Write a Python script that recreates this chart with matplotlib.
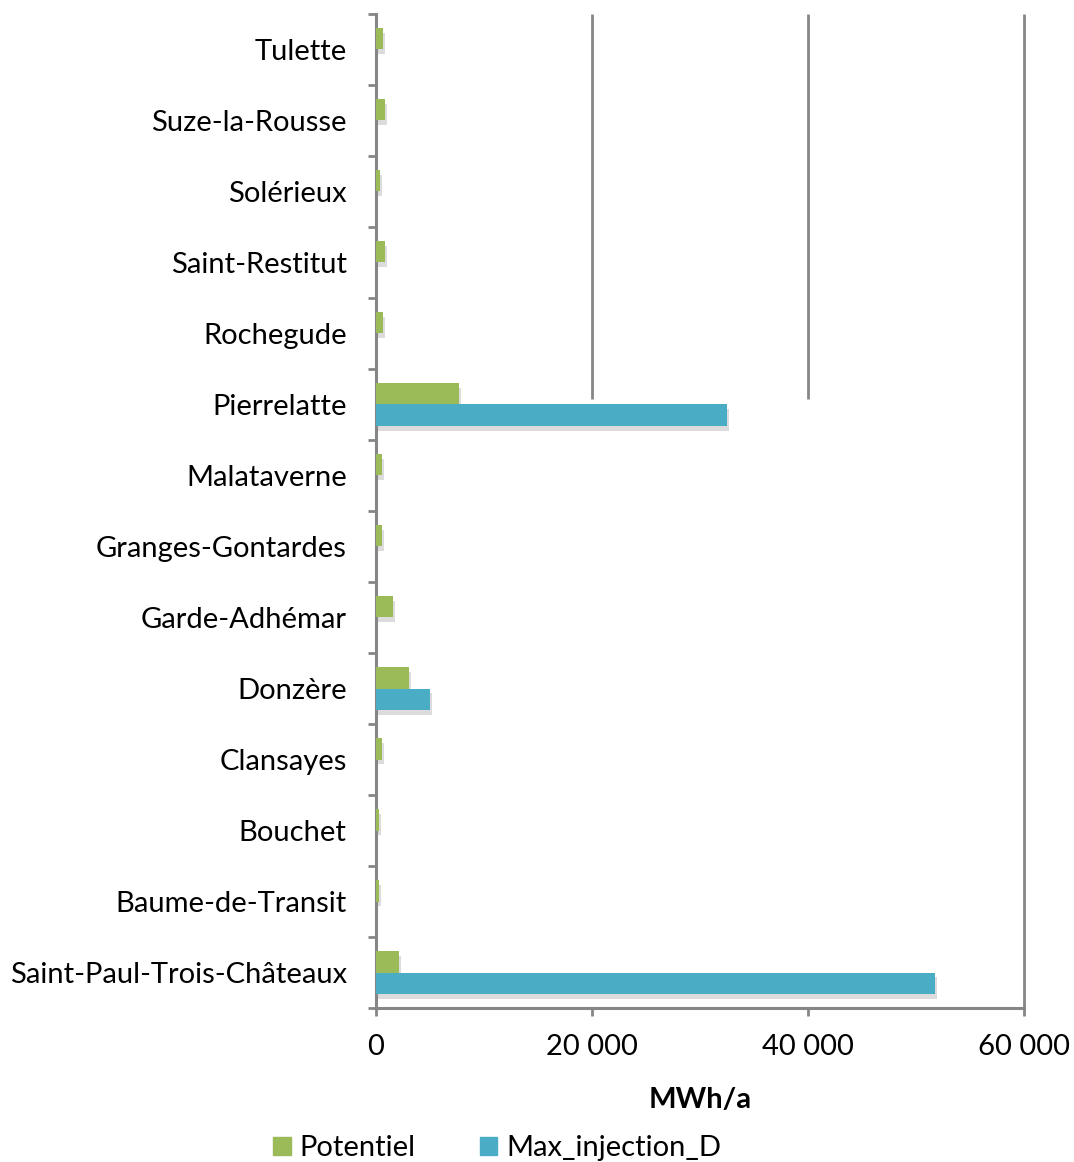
import matplotlib.pyplot as plt
import matplotlib.patheffects as pe
from matplotlib.patches import Patch
from matplotlib.ticker import FuncFormatter, FixedLocator
import numpy as np

communes = ["Tulette", "Suze-la-Rousse", "Solérieux", "Saint-Restitut", "Rochegude",
            "Pierrelatte", "Malataverne", "Granges-Gontardes", "Garde-Adhémar",
            "Donzère", "Clansayes", "Bouchet", "Baume-de-Transit",
            "Saint-Paul-Trois-Châteaux"]
potentiel = [650, 850, 350, 850, 650, 7700, 600, 600, 1550, 3050, 600, 300, 300, 2100]
max_injection = [0, 0, 0, 0, 0, 32500, 0, 0, 0, 5000, 0, 0, 0, 51800]
x_ticks = [0, 20000, 40000, 60000]

green = "#9BBB59"
blue = "#4BACC6"
axis_grey = "#868686"

plt.rcParams["font.family"] = ["Lato", "DejaVu Sans"]

fig = plt.figure(figsize=(10.74, 11.62), dpi=100)
ax = fig.add_axes([0.350, 0.1325, 0.6034, 0.8555])

n = len(communes)
y = np.arange(n)[::-1]  # first commune on top
h = 0.3
shadow = [pe.SimplePatchShadow(offset=(1.5, -3.5), shadow_rgbFace="#8c8c8c", alpha=0.3), pe.Normal()]

b1 = ax.barh(y + h / 2, potentiel, height=h, color=green, zorder=3)
b2 = ax.barh(y - h / 2, max_injection, height=h, color=blue, zorder=3)
for bar in list(b1) + list(b2):
    if bar.get_width() > 0:
        bar.set_path_effects(shadow)

ax.set_xlim(0, 60000)
ax.set_ylim(-0.5, n - 0.5)

# vertical gridlines (the inner ones stop at the Pierrelatte row)
grid_bottom = y[communes.index("Pierrelatte")] + 0.08
for xv in x_ticks[1:-1]:
    ax.vlines(xv, grid_bottom, n - 0.5, color=axis_grey, lw=2, zorder=1)
ax.vlines(60000, -0.5, n - 0.5, color=axis_grey, lw=2, zorder=1, clip_on=False)

for side in ["top", "right"]:
    ax.spines[side].set_visible(False)
for side in ["left", "bottom"]:
    ax.spines[side].set_color(axis_grey)
    ax.spines[side].set_linewidth(2.2)

ax.set_xticks(x_ticks)
ax.xaxis.set_major_formatter(FuncFormatter(lambda v, p: f"{int(v):,}".replace(",", " ")))
ax.tick_params(axis="x", direction="out", length=6, width=2, color=axis_grey,
               labelsize=21, pad=13)

ax.set_yticks(y)
ax.set_yticklabels(communes, fontsize=21)
ax.yaxis.set_minor_locator(FixedLocator(np.arange(-0.5, n, 1)))
ax.tick_params(axis="y", which="major", length=0, pad=21)
ax.tick_params(axis="y", which="minor", direction="out", length=6, width=2, color=axis_grey)

ax.set_xlabel("MWh/a", fontsize=21, fontweight="bold", labelpad=19)

handles = [Patch(color=green, label="Potentiel"), Patch(color=blue, label="Max_injection_D")]
fig.legend(handles=handles, loc="center", bbox_to_anchor=(0.463, 0.012), ncol=2,
           frameon=False, fontsize=21, handlelength=0.6, handleheight=0.6,
           handletextpad=0.3, columnspacing=2.2)

fig.savefig("out.png", dpi=100)
plt.close(fig)
